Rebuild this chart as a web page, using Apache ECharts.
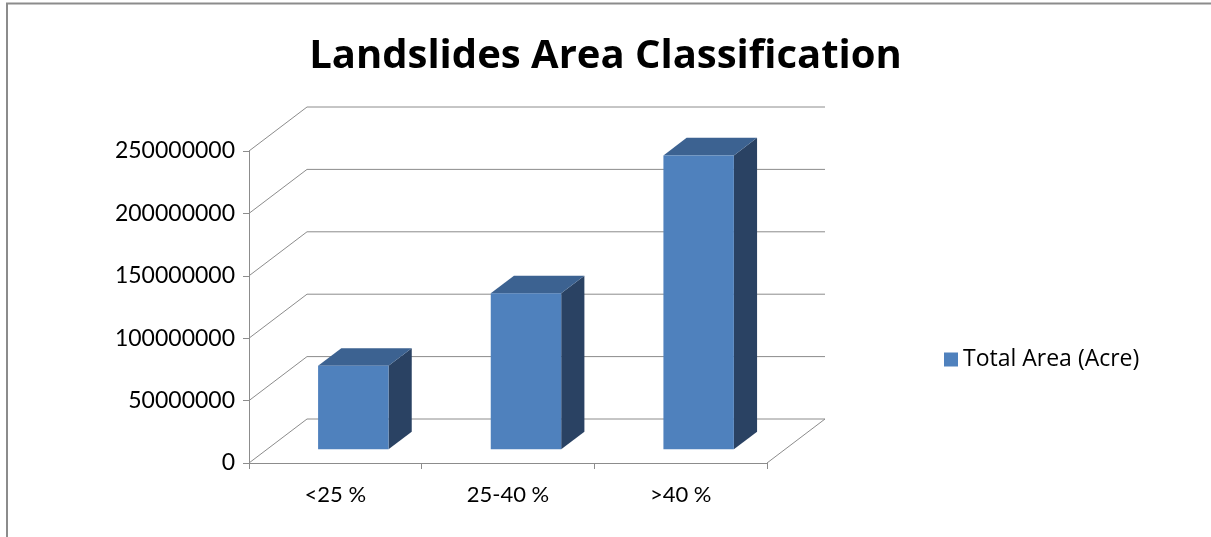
<!DOCTYPE html>
<html>
<head>
<meta charset="utf-8">
<script src="https://cdn.jsdelivr.net/npm/echarts@6/dist/echarts.min.js"></script>
<style>html,body{margin:0;padding:0;background:#fff}#c{width:1211px;height:537px}</style>
</head>
<body>
<div id="c"></div>
<script>
var categories = ['<25 %', '25-40 %', '>40 %'];
var totalArea = [67000000, 125000000, 235500000];
var yTicks = [0, 50000000, 100000000, 150000000, 200000000, 250000000];
var seriesName = 'Total Area (Acre)';

var DX = 58, DY = -44;        // depth of 3D box
var F0 = 0.31, F1 = 0.71;     // bar depth span (fraction)
var BAR_FRAC = 0.408;         // bar width as fraction of band
var FONT = 'Lato, "Open Sans", sans-serif';
var FONT2 = '"Open Sans", Lato, sans-serif';

var chart = echarts.init(document.getElementById('c'), null, {renderer: 'canvas'});

chart.setOption({
  backgroundColor: '#fff',
  animation: false,
  title: {
    text: 'Landslides Area Classification',
    left: 'center', top: 32,
    textStyle: {fontFamily: FONT2, fontWeight: 'bold', fontSize: 40, color: '#000'}
  },
  legend: {
    data: [{name: seriesName, icon: 'rect'}],
    left: 939, top: 343,
    itemWidth: 14, itemHeight: 14, itemGap: 9,
    textStyle: {fontFamily: FONT2, fontSize: 23, color: '#000'}
  },
  grid: {left: 249, right: 444, top: 151, bottom: 74},
  xAxis: {
    type: 'category',
    data: categories,
    axisLine: {lineStyle: {color: '#8c8c8c', width: 1}},
    axisTick: {show: true, length: 6, lineStyle: {color: '#8c8c8c'}},
    axisLabel: {fontFamily: FONT, fontSize: 22, color: '#000', margin: 21}
  },
  yAxis: {
    type: 'value',
    min: 0, max: 250000000, interval: 50000000,
    axisLine: {show: true, lineStyle: {color: '#8c8c8c', width: 1}},
    axisTick: {show: true, length: 6, lineStyle: {color: '#8c8c8c'}},
    splitLine: {show: false},
    axisLabel: {fontFamily: FONT, fontSize: 23, color: '#000', margin: 14,
      formatter: function (v) { return String(v); }}
  },
  graphic: [{
    type: 'rect', silent: true, z: 100,
    shape: {x: 7, y: 3.5, width: 1230, height: 560},
    style: {fill: 'none', stroke: '#8c8c8c', lineWidth: 2}
  }],
  series: [
    {
      type: 'custom',
      name: 'walls',
      silent: true,
      z: 1,
      data: yTicks.map(function (v) { return [0, v]; }),
      renderItem: function (params, api) {
        var cs = params.coordSys;
        var p = api.coord([api.value(0), api.value(1)]);
        var x0 = cs.x, y = p[1];
        var children = [{
          type: 'polyline',
          shape: {points: [[x0, y], [x0 + DX, y + DY], [x0 + cs.width + DX, y + DY]]},
          style: {stroke: '#8c8c8c', lineWidth: 1, fill: null}
        }];
        if (params.dataIndex === 0) {
          children.push({
            type: 'line',
            shape: {x1: x0 + cs.width, y1: y, x2: x0 + cs.width + DX, y2: y + DY},
            style: {stroke: '#8c8c8c', lineWidth: 1}
          });
        }
        return {type: 'group', children: children};
      }
    },
    {
      type: 'custom',
      name: seriesName,
      z: 2,
      itemStyle: {color: '#4F81BD'},
      data: totalArea.map(function (v, i) { return [i, v]; }),
      renderItem: function (params, api) {
        var top = api.coord([api.value(0), api.value(1)]);
        var base = api.coord([api.value(0), 0]);
        var bw = api.size([1, 0])[0] * BAR_FRAC;
        var xl = top[0] - bw / 2 + F0 * DX;
        var xr = xl + bw;
        var yt = top[1] + F0 * DY;
        var yb = base[1] + F0 * DY;
        var ddx = (F1 - F0) * DX, ddy = (F1 - F0) * DY;
        return {
          type: 'group',
          children: [
            {type: 'polygon', shape: {points: [[xr, yt], [xr + ddx, yt + ddy], [xr + ddx, yb + ddy], [xr, yb]]},
              style: {fill: '#2A4263'}},
            {type: 'polygon', shape: {points: [[xl, yt], [xl + ddx, yt + ddy], [xr + ddx, yt + ddy], [xr, yt]]},
              style: {fill: '#3C6291'}},
            {type: 'rect', shape: {x: xl, y: yt, width: bw, height: yb - yt},
              style: {fill: '#4F81BD'}}
          ]
        };
      }
    }
  ]
});
</script>
</body>
</html>
